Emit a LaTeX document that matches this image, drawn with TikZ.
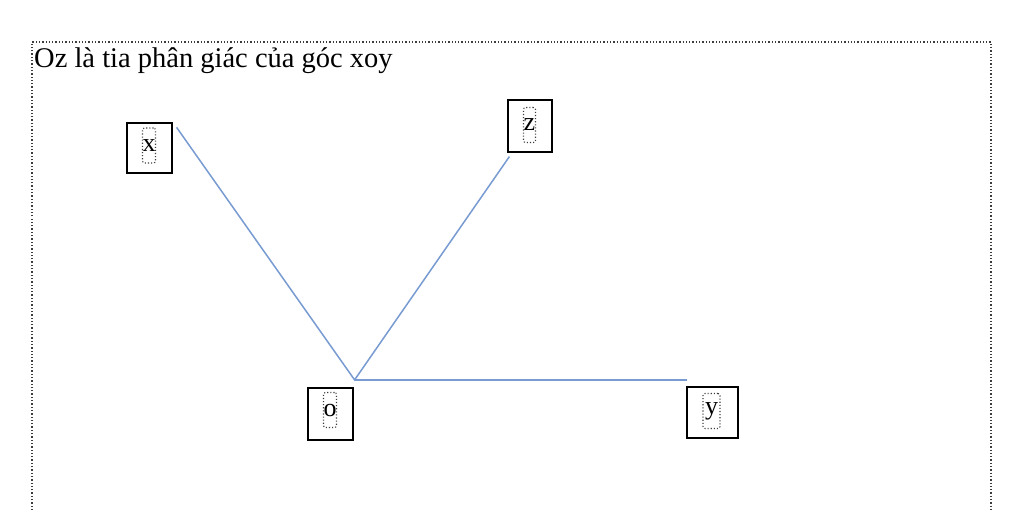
\documentclass[tikz,border=0pt]{standalone}
\usepackage{fontspec}
\setmainfont{Liberation Serif}
\definecolor{raycol}{RGB}{120,155,210}
\definecolor{framecol}{RGB}{60,60,60}
\tikzset{
  outerbox/.style={draw=black, line width=1.2pt, inner sep=0pt},
  innerbox/.style={draw=framecol, dotted, line width=1.1pt, rounded corners=2pt, inner sep=0pt, minimum height=35pt, minimum width=13pt, font=\fontsize{26}{28}\selectfont},
  ray/.style={draw=raycol, line width=1.5pt},
}
\begin{document}
\begin{tikzpicture}[x=1pt,y=-1pt]
\useasboundingbox (0,0) rectangle (1024,510);
\fill[white] (0,0) rectangle (1024,510);
% frame
\draw[framecol, dotted, line width=1.3pt] (32,530) -- (32,42) -- (991,42) -- (991,530);
% title
\node[anchor=base west, inner sep=0pt, font=\fontsize{28.5}{31}\selectfont] (title) at (34,68) {Oz là tia phân giác của góc xoy};
% boxes
\node[outerbox, minimum width=45pt, minimum height=50pt] (x) at (149.5,148) {};
\node[innerbox] (xt) at (149,145.5) {x};
\node[outerbox, minimum width=44pt, minimum height=52pt] (z) at (530,126) {};
\node[innerbox, minimum width=12pt] (zt) at (529.5,125) {z};
\node[outerbox, minimum width=45pt, minimum height=52pt] (o) at (330.5,414) {};
\node[innerbox] (ot) at (330,410) {o};
\node[outerbox, minimum width=51pt, minimum height=51pt] (y) at (712.5,412.5) {};
\node[innerbox, minimum width=17pt] (yt) at (711.5,411) {y};
% ray end points
\coordinate (O) at ([shift={(1,-7.5)}]o.north east);
\coordinate (xe) at ([shift={(4,5)}]x.north east);
\coordinate (ze) at ([shift={(2,4)}]z.south west);
\coordinate (ye) at ([shift={(1,-6.5)}]y.north west);
\draw[ray] (xe) -- (O) -- (ze);
\draw[ray] (O) -- (ye);
\end{tikzpicture}
\end{document}
